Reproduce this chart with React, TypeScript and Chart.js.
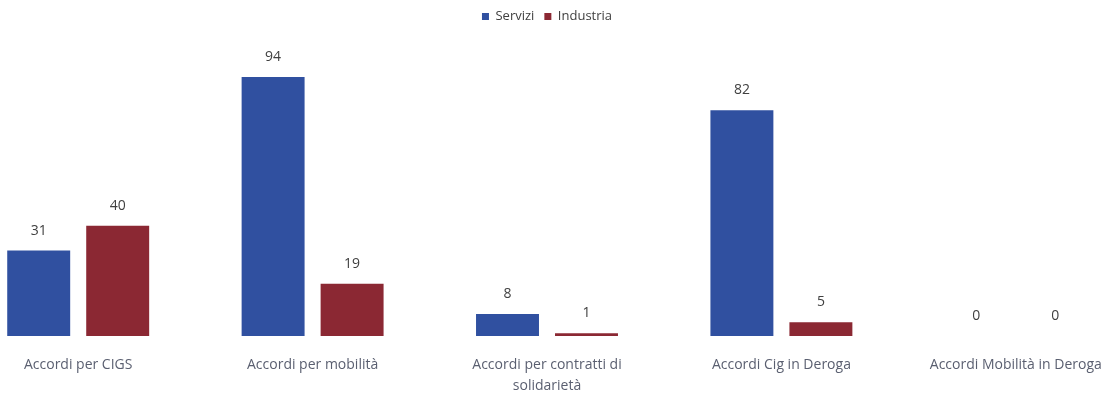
import React, { useEffect, useRef } from "react";
import { Chart, registerables } from "chart.js";

Chart.register(...registerables);

const categories: (string | string[])[] = [
  "Accordi per CIGS",
  "Accordi per mobilità",
  ["Accordi per contratti di", "solidarietà"],
  "Accordi Cig in Deroga",
  "Accordi Mobilità in Deroga",
];
const serviziValues = [31, 94, 8, 82, 0];
const industriaValues = [40, 19, 1, 5, 0];
const seriesNames = ["Servizi", "Industria"];

const FONT = "'Open Sans', sans-serif";

const valueLabels = {
  id: "valueLabels",
  afterDatasetsDraw(chart: any) {
    const ctx = chart.ctx;
    ctx.save();
    ctx.font = `14px ${FONT}`;
    ctx.fillStyle = "#404040";
    ctx.textAlign = "center";
    ctx.textBaseline = "middle";
    chart.data.datasets.forEach((ds: any, i: number) => {
      const meta = chart.getDatasetMeta(i);
      meta.data.forEach((bar: any, j: number) => {
        ctx.fillText(String(ds.data[j]), bar.x, bar.y - 20);
      });
    });
    ctx.restore();
  },
};

export default function App() {
  const ref = useRef<HTMLCanvasElement | null>(null);
  useEffect(() => {
    if (!ref.current) return;
    const chart = new Chart(ref.current, {
      type: "bar",
      data: {
        labels: categories,
        datasets: [
          {
            label: seriesNames[0],
            data: serviziValues,
            backgroundColor: "#3050a0",
            categoryPercentage: 0.674,
            barPercentage: 0.797,
          },
          {
            label: seriesNames[1],
            data: industriaValues,
            backgroundColor: "#8b2833",
            categoryPercentage: 0.674,
            barPercentage: 0.797,
          },
        ],
      },
      options: {
        animation: false,
        responsive: true,
        maintainAspectRatio: false,
        layout: { padding: { top: 0, left: 0, right: 0, bottom: 0 } },
        plugins: {
          legend: {
            display: true,
            position: "top",
            labels: {
              boxWidth: 7,
              boxHeight: 7,
              padding: 10,
              color: "#404040",
              font: { family: FONT, size: 13 },
            },
          },
          tooltip: { enabled: false },
        },
        scales: {
          x: {
            grid: { display: false, drawTicks: false },
            border: { display: false },
            ticks: {
              color: "#5a5f70",
              font: { family: FONT, size: 14, lineHeight: 1.5 },
              padding: 19,
              maxRotation: 0,
              autoSkip: false,
            },
          },
          y: {
            display: false,
            min: 0,
            max: 110,
          },
        },
      },
      plugins: [valueLabels],
    });
    return () => chart.destroy();
  }, []);
  return (
    <div style={{ position: "fixed", left: 0, top: 0, width: 1120, height: 403, overflow: "hidden", background: "#fff" }}>
      <div style={{ position: "absolute", left: -39, top: 0, width: 1172, height: 416 }}>
        <canvas ref={ref} />
      </div>
    </div>
  );
}
